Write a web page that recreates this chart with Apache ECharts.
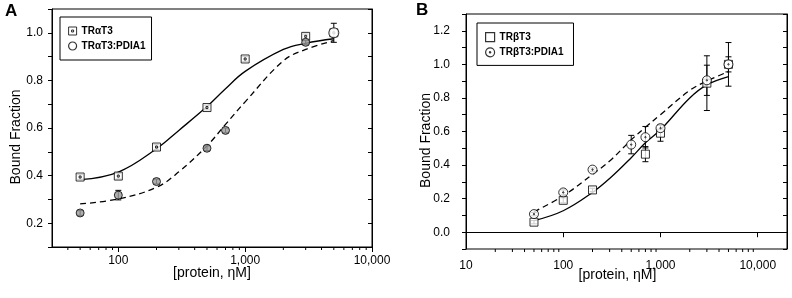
<!DOCTYPE html>
<html>
<head>
<meta charset="utf-8">
<script src="https://cdn.jsdelivr.net/npm/echarts@6/dist/echarts.min.js"></script>
<style>
  html, body { margin: 0; padding: 0; background: #fff; }
  #main { width: 792px; height: 298px; }
</style>
</head>
<body>
<div id="main"></div>
<script>
// ---- panel A : TRa ----
var aSqX = [50, 100, 200, 500, 1000, 3000, 5000];
var aSqY = [0.394, 0.398, 0.52, 0.686, 0.89, 0.985, 1.0];
var aSqErr = [0.01, 0.012, 0.01, 0.01, 0.01, 0.01, 0];
var aCirX = [50, 100, 200, 500, 700, 3000, 5000];
var aCirY = [0.243, 0.318, 0.375, 0.515, 0.59, 0.96, 1.0];
var aCirErr = [0.01, 0.02, 0.01, 0.01, 0.01, 0.01, 0.04];
// fitted curves
var aFitX = [50, 100, 200, 300, 500, 700, 1000, 2000, 3000, 5000];
var aFitSolid = [0.383, 0.415, 0.513, 0.59, 0.69, 0.765, 0.838, 0.93, 0.956, 0.975];
var aFitDash = [0.281, 0.302, 0.351, 0.416, 0.525, 0.615, 0.71, 0.882, 0.93, 0.967];
var aMinorTicks = [40, 50, 60, 70, 80, 90, 200, 300, 400, 500, 600, 700, 800, 900,
  2000, 3000, 4000, 5000, 6000, 7000, 8000, 9000];

// ---- panel B : TRb ----
var bSqX = [50, 100, 200, 700, 1000, 3000, 5000];
var bSqY = [0.06, 0.19, 0.252, 0.465, 0.59, 0.888, 1.0];
var bSqErr = [0.01, 0.015, 0.01, 0.045, 0.048, 0.163, 0.13];
var bCirX = [50, 100, 200, 500, 700, 1000, 3000, 5000];
var bCirY = [0.108, 0.237, 0.373, 0.522, 0.566, 0.62, 0.905, 1.0];
var bCirErr = [0.01, 0.015, 0.01, 0.055, 0.064, 0.02, 0.09, 0.045];
var bFitX = [50, 100, 200, 300, 500, 700, 1000, 2000, 3000, 5000];
var bFitSolid = [0.069, 0.128, 0.237, 0.32, 0.444, 0.533, 0.61, 0.80, 0.878, 0.927];
var bFitDash = [0.122, 0.217, 0.345, 0.424, 0.55, 0.625, 0.70, 0.845, 0.90, 0.957];
var bMinorTicks = [20, 30, 40, 50, 60, 70, 80, 90, 200, 300, 400, 500, 600, 700, 800, 900,
  2000, 3000, 4000, 5000, 6000, 7000, 8000, 9000];

var FONT = 'Liberation Sans, Arial, sans-serif';
var SQ_DOT = 'path://M-10,-10L10,-10L10,10L-10,10ZM-2.5,-2.5L2.5,-2.5L2.5,2.5L-2.5,2.5Z';
var CIR_DOT = 'path://M0,-10A10,10 0 1,1 0,10A10,10 0 1,1 0,-10ZM0,-1.5A1.5,1.5 0 1,1 0,1.5A1.5,1.5 0 1,1 0,-1.5Z';

function pairs(xs, ys) {
  return xs.map(function (x, i) { return [x, ys[i]]; });
}

// error bars through the axes' own scales
function errBars(idx, xs, ys, errs) {
  return {
    type: 'custom',
    xAxisIndex: idx, yAxisIndex: idx * 2,
    silent: true, z: 2,
    data: xs.map(function (x, i) { return [x, ys[i], errs[i]]; }),
    renderItem: function (params, api) {
      var x = api.value(0), y = api.value(1), e = api.value(2);
      if (!e) return;
      var t = api.coord([x, y + e]), b = api.coord([x, y - e]);
      var st = { stroke: '#000', lineWidth: 1 };
      return {
        type: 'group',
        children: [
          { type: 'line', shape: { x1: t[0], y1: t[1], x2: b[0], y2: b[1] }, style: st },
          { type: 'line', shape: { x1: t[0] - 3, y1: t[1], x2: t[0] + 3, y2: t[1] }, style: st },
          { type: 'line', shape: { x1: b[0] - 3, y1: b[1], x2: b[0] + 3, y2: b[1] }, style: st }
        ]
      };
    }
  };
}

// minor log ticks under the x axis
function minorTicks(idx, ticks, yMin) {
  return {
    type: 'custom',
    xAxisIndex: idx, yAxisIndex: idx * 2,
    silent: true, z: 5,
    data: ticks.map(function (v) { return [v, yMin]; }),
    renderItem: function (params, api) {
      var p = api.coord([api.value(0), api.value(1)]);
      return {
        type: 'line',
        shape: { x1: p[0], y1: p[1], x2: p[0], y2: p[1] + 3 },
        style: { stroke: '#000', lineWidth: 1 }
      };
    }
  };
}

function fitLine(idx, xs, ys, dashed) {
  return {
    type: 'line',
    xAxisIndex: idx, yAxisIndex: idx * 2,
    data: pairs(xs, ys),
    smooth: 0.4, showSymbol: false, silent: true, z: 1,
    lineStyle: { color: '#000', width: 1.3, type: dashed ? [6, 4] : 'solid' }
  };
}

function xAx(idx, min, max, margin, gap, pad) {
  return {
    type: 'log', logBase: 10, gridIndex: idx, min: min, max: max,
    name: '[protein, \u03b7M]', nameLocation: 'middle', nameGap: gap, nameMoveOverlap: false,
    nameTextStyle: { fontFamily: FONT, fontSize: 14, color: '#000', padding: pad },
    axisLine: { lineStyle: { color: '#000', width: 1 } },
    axisTick: { inside: false, length: 5, lineStyle: { color: '#000' } },
    axisLabel: {
      fontFamily: FONT, fontSize: 12, color: '#000', margin: margin,
      showMinLabel: idx === 1, showMaxLabel: idx === 0,
      formatter: function (v) { return Math.round(v).toLocaleString('en-US'); }
    },
    splitLine: { show: false }
  };
}

function yAxLeft(idx, min, max, margin, gap, pad) {
  return {
    type: 'value', gridIndex: idx, position: 'left', min: min, max: max, interval: 0.1,
    name: 'Bound Fraction', nameLocation: 'middle', nameGap: gap, nameMoveOverlap: false,
    nameTextStyle: { fontFamily: FONT, fontSize: 14, color: '#000', padding: pad },
    axisLine: { show: true, lineStyle: { color: '#000', width: 1 } },
    axisTick: { show: true, inside: false, length: 4, lineStyle: { color: '#000' } },
    axisLabel: {
      fontFamily: FONT, fontSize: 12, color: '#000', margin: margin,
      formatter: function (v) {
        var k = Math.round(v * 10);
        return (k % 2 === 0) ? (k / 10).toFixed(1) : '';
      }
    },
    splitLine: { show: false }
  };
}

function yAxRight(idx, min, max) {
  return {
    type: 'value', gridIndex: idx, position: 'right', min: min, max: max, interval: 0.1,
    axisLine: { show: true, lineStyle: { color: '#000', width: 1 } },
    axisTick: { show: true, inside: true, length: 4, lineStyle: { color: '#000' } },
    axisLabel: { show: false },
    splitLine: { show: false }
  };
}

var chart = echarts.init(document.getElementById('main'), null, { renderer: 'canvas' });

var option = {
  backgroundColor: '#fff',
  animation: false,
  textStyle: { fontFamily: FONT },
  grid: [
    { left: 52, top: 9, width: 320, height: 238, show: true, borderColor: '#000', borderWidth: 1 },
    { left: 466, top: 14, width: 321, height: 235, show: true, borderColor: '#000', borderWidth: 1 }
  ],
  xAxis: [
    xAx(0, 30, 10000, 8, 19, [0, 0, 0, 0]),
    xAx(1, 10, 20000, 11, 19, [0, 18, 0, 0])
  ],
  yAxis: [
    yAxLeft(0, 0.1, 1.1, 9, 29, [0, 18, 0, 0]),
    yAxRight(0, 0.1, 1.1),
    yAxLeft(1, -0.1, 1.3, 16, 33, [0, 18, 0, 0]),
    yAxRight(1, -0.1, 1.3)
  ],
  legend: [
    {
      left: 60, top: 17, orient: 'vertical',
      padding: [9, 6, 9, 8], itemGap: 5, itemWidth: 8, itemHeight: 8,
      borderColor: '#000', borderWidth: 1,
      textStyle: { fontFamily: FONT, fontSize: 10, fontWeight: 'bold', color: '#000' },
      data: [
        { name: 'TR\u03b1T3', icon: SQ_DOT, itemStyle: { color: '#fff', borderColor: '#000', borderWidth: 1 } },
        { name: 'TR\u03b1T3:PDIA1', icon: 'circle', itemStyle: { color: '#fff', borderColor: '#000', borderWidth: 1.2 } }
      ]
    },
    {
      left: 477, top: 23, orient: 'vertical',
      padding: [9, 10, 8, 8], itemGap: 5, itemWidth: 9, itemHeight: 9,
      borderColor: '#000', borderWidth: 1,
      textStyle: { fontFamily: FONT, fontSize: 10, fontWeight: 'bold', color: '#000' },
      data: [
        { name: 'TR\u03b2T3', icon: 'rect', itemStyle: { color: '#fff', borderColor: '#000', borderWidth: 1.2 } },
        { name: 'TR\u03b2T3:PDIA1', icon: CIR_DOT, itemStyle: { color: '#fff', borderColor: '#000', borderWidth: 1.2 } }
      ]
    }
  ],
  graphic: [
    { type: 'text', left: 5, top: 3, style: { text: 'A', font: 'bold 17px ' + FONT, fill: '#000' } },
    { type: 'text', left: 416, top: 2, style: { text: 'B', font: 'bold 17px ' + FONT, fill: '#000' } }
  ],
  series: [
    fitLine(0, aFitX, aFitSolid, false),
    fitLine(0, aFitX, aFitDash, true),
    errBars(0, aSqX, aSqY, aSqErr),
    errBars(0, aCirX, aCirY, aCirErr),
    {
      name: 'TR\u03b1T3', type: 'scatter', xAxisIndex: 0, yAxisIndex: 0, z: 3,
      symbol: SQ_DOT, symbolSize: 8,
      itemStyle: { color: '#fff', borderColor: '#000', borderWidth: 1 },
      data: pairs(aSqX, aSqY)
    },
    {
      name: 'TR\u03b1T3:PDIA1', type: 'scatter', xAxisIndex: 0, yAxisIndex: 0, z: 4,
      symbol: 'circle', symbolSize: 8,
      itemStyle: { color: '#9a9a9a', borderColor: '#000', borderWidth: 1 },
      data: aCirX.map(function (x, i) {
        var last = i === aCirX.length - 1;
        return last ? { value: [x, aCirY[i]], symbolSize: 10, itemStyle: { color: '#fff' } } : [x, aCirY[i]];
      })
    },
    minorTicks(0, aMinorTicks, 0.1),

    fitLine(1, bFitX, bFitSolid, false),
    fitLine(1, bFitX, bFitDash, true),
    errBars(1, bSqX, bSqY, bSqErr),
    errBars(1, bCirX, bCirY, bCirErr),
    {
      name: 'TR\u03b2T3', type: 'scatter', xAxisIndex: 1, yAxisIndex: 2, z: 3,
      symbol: 'rect', symbolSize: 8,
      itemStyle: { color: '#fff', borderColor: '#000', borderWidth: 1 },
      data: pairs(bSqX, bSqY)
    },
    {
      name: 'TR\u03b2T3:PDIA1', type: 'scatter', xAxisIndex: 1, yAxisIndex: 2, z: 4,
      symbol: CIR_DOT, symbolSize: 9,
      itemStyle: { color: '#fff', borderColor: '#000', borderWidth: 1 },
      data: pairs(bCirX, bCirY)
    },
    minorTicks(1, bMinorTicks, -0.1)
  ]
};

chart.setOption(option);
</script>
</body>
</html>
